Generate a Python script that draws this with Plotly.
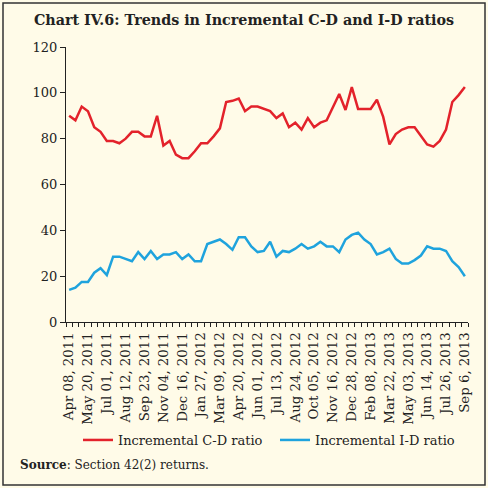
import plotly.graph_objects as go

# Fortnightly reporting Fridays, Apr 08 2011 .. Sep 06 2013 (64 points)
n_points = 64
tick_labels = ["Apr 08, 2011", "May 20, 2011", "Jul 01, 2011", "Aug 12, 2011", "Sep 23, 2011",
               "Nov 04, 2011", "Dec 16, 2011", "Jan 27, 2012", "Mar 09, 2012", "Apr 20, 2012",
               "Jun 01, 2012", "Jul 13, 2012", "Aug 24, 2012", "Oct 05, 2012", "Nov 16, 2012",
               "Dec 28, 2012", "Feb 08, 2013", "Mar 22, 2013", "May 03, 2013", "Jun 14, 2013",
               "Jul 26, 2013", "Sep 6, 2013"]

cd_ratio = [90, 88, 94, 92, 85, 83, 79, 79, 78, 80, 83, 83, 81, 81, 90, 77,
            79, 73, 71.5, 71.5, 74.5, 78, 78, 81, 84.5, 96, 96.5, 97.5, 92, 94, 94, 93,
            92, 89, 91, 85, 87, 84, 89, 85, 87, 88, 94, 99.5, 92.5, 102.5, 93, 93,
            93, 97, 89.5, 77.5, 82, 84, 85, 85, 81, 77.5, 76.5, 79, 84, 96, 99, 102.5]

id_ratio = [14, 15, 17.5, 17.5, 21.5, 23.5, 20.5, 28.5, 28.5, 27.5, 26.5, 30.5, 27.5, 31, 27.5, 29.5,
            29.5, 30.5, 27.5, 29.5, 26.5, 26.5, 34, 35, 36, 34, 31.5, 37, 37, 33, 30.5, 31,
            35, 28.5, 31, 30.5, 32, 34, 32, 33, 35, 33, 33, 30.5, 36, 38, 39, 36,
            34, 29.5, 30.5, 32, 27.5, 25.5, 25.5, 27, 29, 33, 32, 32, 31, 26.5, 24, 20]

x_idx = list(range(n_points))
tick_pos = list(range(0, n_points, 3))

FONT = "DejaVu Serif"
BG = "#fffbe8"
LEG_FONT = dict(family=FONT, size=13, color="#222")

fig = go.Figure()
fig.add_trace(go.Scatter(x=x_idx, y=cd_ratio, mode="lines", name="Incremental C-D ratio",
                         line=dict(color="#e3222b", width=2.5), legend="legend"))
fig.add_trace(go.Scatter(x=x_idx, y=id_ratio, mode="lines", name="Incremental I-D ratio",
                         line=dict(color="#1fa3dd", width=2.5), legend="legend2"))

fig.update_layout(
    width=488, height=488,
    paper_bgcolor=BG, plot_bgcolor=BG,
    margin=dict(l=66, r=20, t=47, b=166, autoexpand=False),
    font=dict(family=FONT, size=11, color="#222"),
    showlegend=True,
    legend=dict(orientation="h", xref="container", x=78 / 488, xanchor="left",
                yref="container", y=1 - 440 / 488, yanchor="middle",
                bgcolor="rgba(0,0,0,0)", font=LEG_FONT),
    legend2=dict(orientation="h", xref="container", x=275 / 488, xanchor="left",
                 yref="container", y=1 - 440 / 488, yanchor="middle",
                 bgcolor="rgba(0,0,0,0)", font=LEG_FONT),
    title=dict(text="<b>Chart IV.6: Trends in Incremental C-D and I-D ratios</b>",
               xref="container", x=0.5, xanchor="center", yref="container",
               y=1 - 20 / 488, yanchor="middle",
               font=dict(family=FONT, size=14.3, color="#222")),
)

fig.update_xaxes(range=[-0.5, n_points - 0.5], tickmode="array", tickvals=tick_pos,
                 ticktext=tick_labels, tickangle=-90, ticks="", showgrid=False, zeroline=False,
                 showline=True, linecolor="#222", linewidth=1, ticklabelstandoff=4,
                 automargin=False,
                 tickfont=dict(family=FONT, size=13.3, color="#222"),
                 minor=dict(tickmode="linear", tick0=-0.5, dtick=1, ticks="outside",
                            ticklen=4, tickcolor="#222", showgrid=False))
fig.update_yaxes(range=[0, 120], dtick=20, ticks="outside", ticklen=5, tickcolor="#222",
                 showgrid=False, zeroline=False, showline=True, linecolor="#222", linewidth=1,
                 automargin=False,
                 tickfont=dict(family=FONT, size=13, color="#222"))

# outer frame
fig.add_shape(type="rect", xref="paper", yref="paper",
              x0=(3 - 66) / 402, x1=(485 - 66) / 402,
              y0=(322 - 485) / 275, y1=(322 - 3) / 275,
              line=dict(color="#333", width=1.5), fillcolor="rgba(0,0,0,0)", layer="below")

fig.add_annotation(text="<b>Source</b>: Section 42(2) returns.", xref="paper", yref="paper",
                   x=(18 - 66) / 402, xanchor="left", y=(322 - 465) / 275, yanchor="middle",
                   showarrow=False, font=dict(family=FONT, size=12, color="#222"))

fig.write_html("out.html", config={"displayModeBar": False},
               post_script="document.body.style.margin='0px';")
